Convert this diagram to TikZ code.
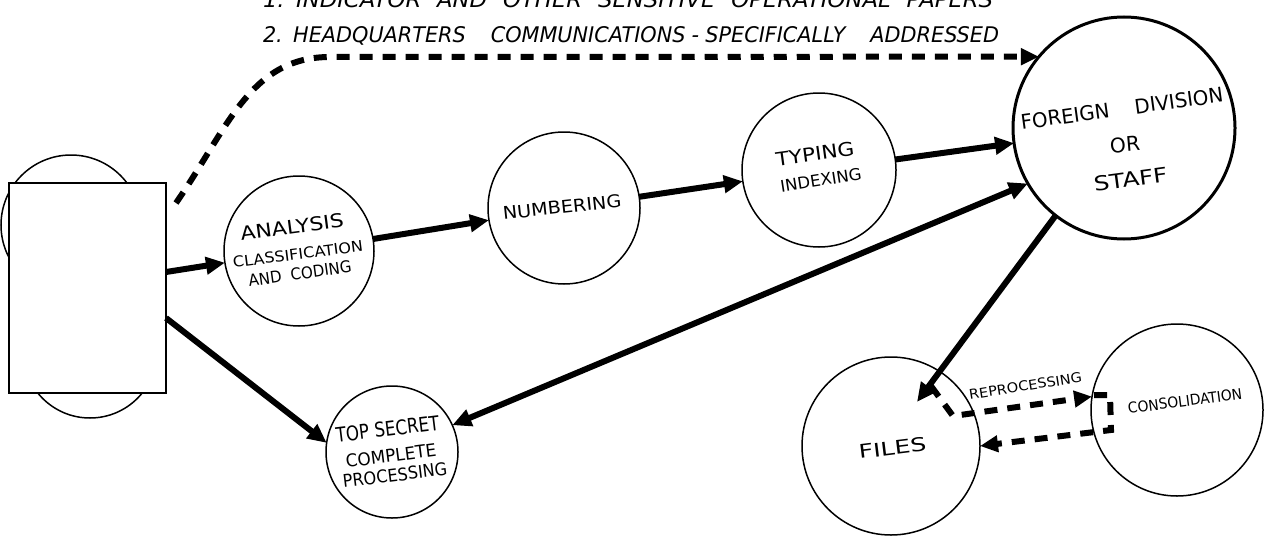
\documentclass[tikz,border=0pt]{standalone}
\usepackage{graphicx}
\usepackage{fontspec}
\setmainfont{DejaVu Sans}
\usetikzlibrary{arrows.meta}
\newcommand{\lbfit}[3]{\resizebox{#1pt}{#2pt}{#3}}
\begin{document}
\begin{tikzpicture}[x=1pt,y=-1pt,
  circ/.style={draw, circle, line width=1.5pt, inner sep=0pt, outer sep=0pt},
  bigcirc/.style={circ, line width=3pt},
  flow/.style={line width=6pt, -{Triangle[length=19pt,width=17pt]}},
  bothflow/.style={line width=6pt, {Triangle[length=19pt,width=17pt]}-{Triangle[length=19pt,width=17pt]}},
  dflow/.style={line width=6pt, dash pattern=on 13pt off 10pt, -{Triangle[length=18pt,width=16pt]}},
  lbl/.style={inner sep=0pt, outer sep=0pt},
]
\clip (0,0) rectangle (1273,535);
\fill[white] (0,0) rectangle (1273,535);

% header lines
\node[lbl, anchor=base west] (t1) at (263,8) {\lbfit{730}{16}{\itshape 1.\hspace{0.5em}INDICATOR\hspace{0.7em}AND\hspace{0.7em}OTHER\hspace{0.7em}SENSITIVE\hspace{0.7em}OPERATIONAL\hspace{0.7em}PAPERS}};
\node[lbl, anchor=base west] (t2) at (263,43) {\lbfit{736}{16}{\itshape 2.\hspace{0.5em}HEADQUARTERS\hspace{1.2em}COMMUNICATIONS\hspace{0.3em}-\hspace{0.3em}SPECIFICALLY\hspace{1.2em}ADDRESSED}};

% circles behind the box and the box
\node[circ, minimum size=140pt] (bk1) at (71,225) {};
\node[circ, minimum size=134pt] (bk2) at (90,351) {};
\node[draw, line width=2pt, fill=white, minimum width=157pt, minimum height=210pt, inner sep=0pt, outer sep=0pt] (box) at (87.5,288) {};

% process circles
\node[circ, minimum size=150pt] (ana) at (299,251) {};
\node[circ, minimum size=152pt] (num) at (564,208) {};
\node[circ, minimum size=154pt] (typ) at (819,170) {};
\node[bigcirc, minimum size=222pt] (fd) at (1124,128) {};
\node[circ, minimum size=132pt] (ts) at (392,452) {};
\node[circ, minimum size=178pt] (files) at (891,446) {};
\node[circ, minimum size=172pt] (con) at (1177,410) {};

% labels
\node[lbl, rotate=7.6] (l-ana) at (292,227) {\lbfit{104}{14}{ANALYSIS}};
\node[lbl, rotate=7.3] (l-cla) at (298,254) {\lbfit{131}{11}{CLASSIFICATION}};
\node[lbl, rotate=8] (l-and) at (300,273.5) {\lbfit{104}{12}{AND\hspace{0.6em}CODING}};
\node[lbl, rotate=6.2] (l-num) at (562,207) {\lbfit{119}{13}{NUMBERING}};
\node[lbl, rotate=7.8] (l-typ) at (815,154) {\lbfit{79}{14}{TYPING}};
\node[lbl, rotate=8.9] (l-ind) at (821,180) {\lbfit{82}{12}{INDEXING}};
\node[lbl, rotate=7.8] (l-fd1) at (1122,108.5) {\lbfit{204}{15}{FOREIGN\hspace{1.3em}DIVISION}};
\node[lbl, rotate=5] (l-or) at (1125,144.5) {\lbfit{30}{15}{OR}};
\node[lbl, rotate=7.6] (l-st) at (1130.5,179.5) {\lbfit{74}{15}{STAFF}};
\node[lbl, rotate=7] (l-ts1) at (387.5,429) {\lbfit{104}{15}{TOP SECRET}};
\node[lbl, rotate=7.4] (l-ts2) at (391,455.5) {\lbfit{91}{13}{COMPLETE}};
\node[lbl, rotate=7] (l-ts3) at (395,475) {\lbfit{105}{13}{PROCESSING}};
\node[lbl, rotate=7] (l-fil) at (892.5,448) {\lbfit{68}{14}{FILES}};
\node[lbl, rotate=7.5] (l-con) at (1185,401) {\lbfit{115}{11}{CONSOLIDATION}};
\node[lbl, rotate=9] (l-rep) at (1025.5,386) {\lbfit{114}{10}{REPROCESSING}};

% solid connectors
\draw[flow] ([yshift=16pt]box.east) -- (ana.189);
\draw[flow] (ana) -- (num);
\draw[flow] (num) -- (typ);
\draw[flow] (typ) -- (fd);
\draw[flow] ([yshift=-30pt]box.east) -- (ts.172);
\draw[bothflow] (ts.24) -- (fd.210);
\coordinate (ftip) at (917,402);
\draw[flow] (fd.232) -- (ftip);

% dashed connectors
\coordinate (dstart) at (176,203);
\coordinate (dbend) at (330,57);
\draw[dflow] (dstart) .. controls (228,128) and (250,57) .. (dbend) -- (fd.140);
\coordinate (r1) at (931,386);
\coordinate (r2) at (953,416);
\draw[dflow] (r1) -- (r2) -- (con.171);
\coordinate (c1) at (1094,395);
\coordinate (c2) at (1110,395);
\coordinate (c3) at (1111,430);
\draw[dflow] (c1) -- (c2) -- (c3) -- (files.east);
\end{tikzpicture}
\end{document}
